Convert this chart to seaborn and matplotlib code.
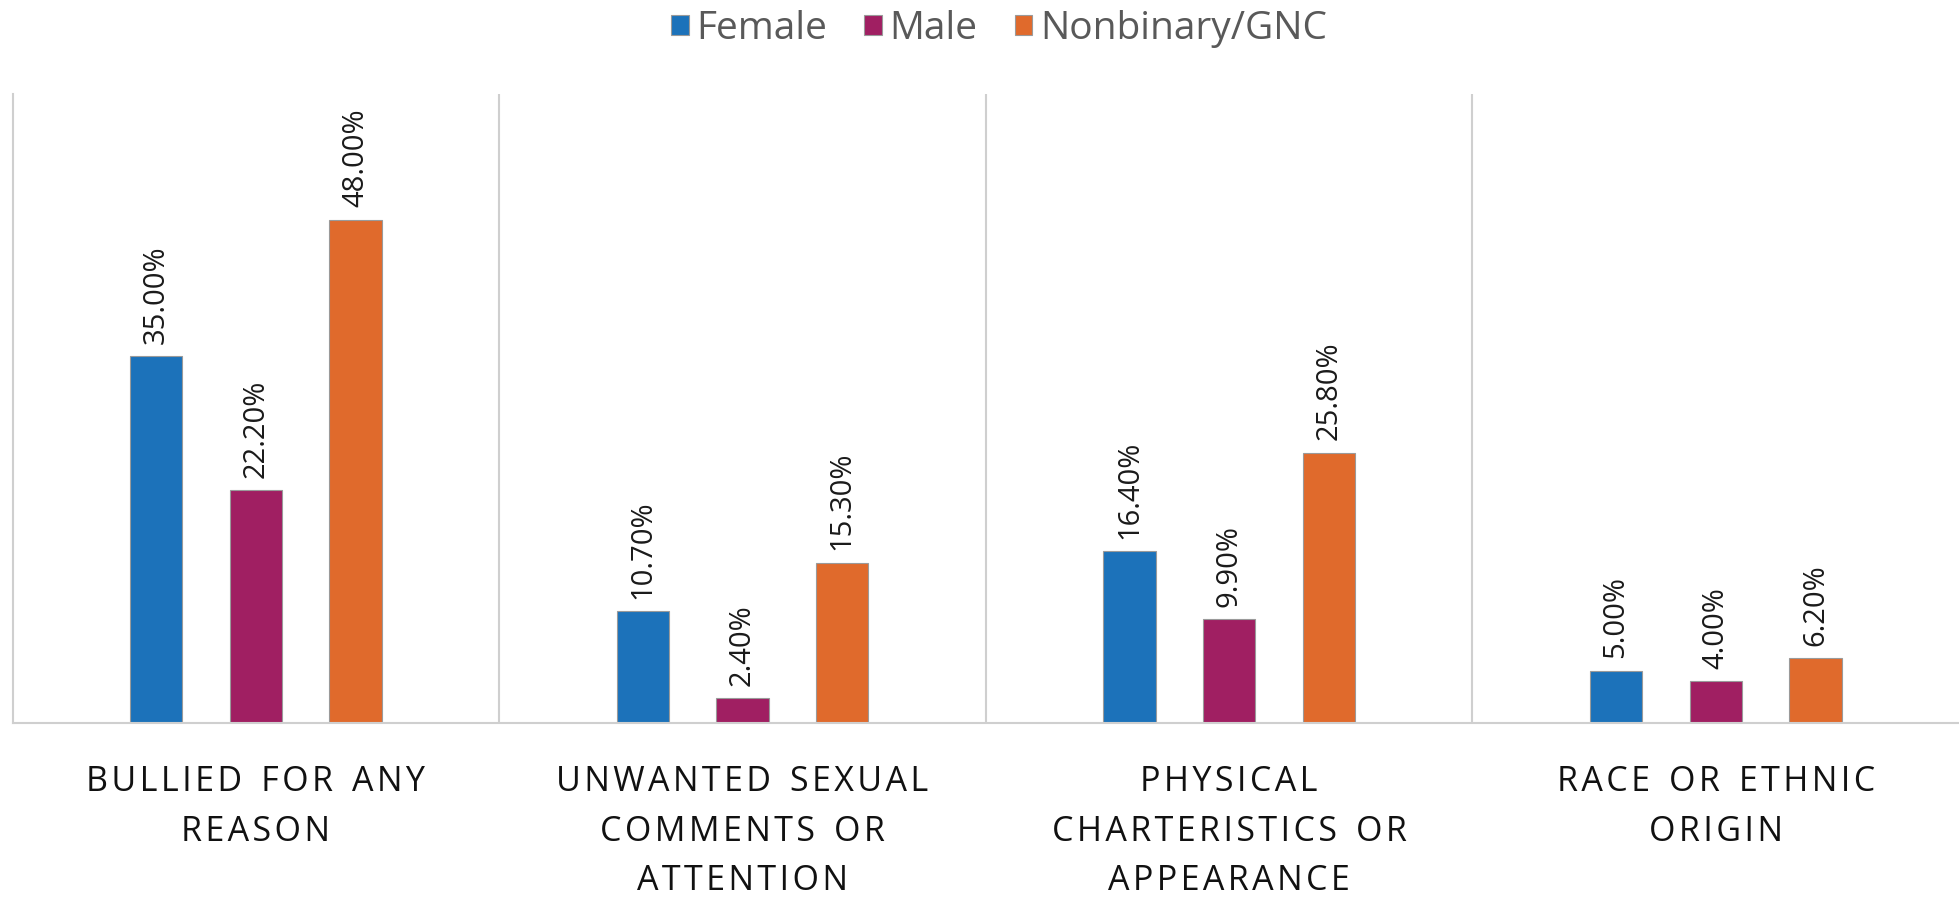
import pandas as pd
import matplotlib
matplotlib.use('Agg')
import matplotlib.pyplot as plt
import seaborn as sns

categories = [
    'BULLIED FOR ANY\nREASON',
    'UNWANTED SEXUAL\nCOMMENTS OR\nATTENTION',
    'PHYSICAL\nCHARTERISTICS OR\nAPPEARANCE',
    'RACE OR ETHNIC\nORIGIN',
]
groups = ['Female', 'Male', 'Nonbinary/GNC']
female = [35.0, 10.7, 16.4, 5.0]
male = [22.2, 2.4, 9.9, 4.0]
nonbinary = [48.0, 15.3, 25.8, 6.2]
colors = ['#1C72BA', '#A01F62', '#E06A2C']


def spaced(text):
    # fake letter spacing with hair spaces, like the Excel chart
    out = []
    for line in text.split('\n'):
        out.append('\u200a'.join(line).replace(' ', ' \u200a'))
    return '\n'.join(out)


rows = []
for g, vals in zip(groups, [female, male, nonbinary]):
    for c, v in zip(categories, vals):
        rows.append({'category': c, 'gender': g, 'value': v})
df = pd.DataFrame(rows)

sns.set_style('white')
plt.rcParams['font.family'] = ['Open Sans', 'DejaVu Sans']

fig = plt.figure(figsize=(19.59, 8.97), dpi=100)
ax = fig.add_axes([0.0064, 0.1936, 0.9936, 0.702])

sns.barplot(data=df, x='category', y='value', hue='gender', hue_order=groups,
            palette=colors, width=0.615, gap=0.475, edgecolor='#9a9a9a',
            linewidth=0.8, saturation=1, ax=ax)

for cont in ax.containers:
    ax.bar_label(cont, labels=[f'{v:.2f}%' for v in cont.datavalues],
                 rotation=90, padding=9, fontsize=21, color='#1a1a1a')

ax.set_ylim(0, 60)
ax.set_xlim(-0.5, 3.5)
ax.set_xlabel('')
ax.set_ylabel('')
ax.set_yticks([])
ax.set_xticks(range(len(categories)))
ax.set_xticklabels([spaced(c) for c in categories])
ax.tick_params(axis='x', length=0, pad=30, labelsize=24.5, colors='#111111')
for lab in ax.get_xticklabels():
    lab.set_linespacing(1.6)
    lab.set_verticalalignment('top')

for side in ['top', 'right']:
    ax.spines[side].set_visible(False)
for side in ['left', 'bottom']:
    ax.spines[side].set_color('#cfcfcf')
    ax.spines[side].set_linewidth(1.5)
for xpos in [0.5, 1.5, 2.5]:
    ax.axvline(xpos, color='#cfcfcf', lw=1.5)

sns.move_legend(ax, 'upper center', bbox_to_anchor=(0.51, 1.028),
                bbox_transform=fig.transFigure, ncol=3, frameon=False,
                title=None, fontsize=28, handlelength=0.45, handleheight=0.45,
                handletextpad=0.2, columnspacing=0.95, labelcolor='#595959')

fig.savefig('out.png', dpi=100)
